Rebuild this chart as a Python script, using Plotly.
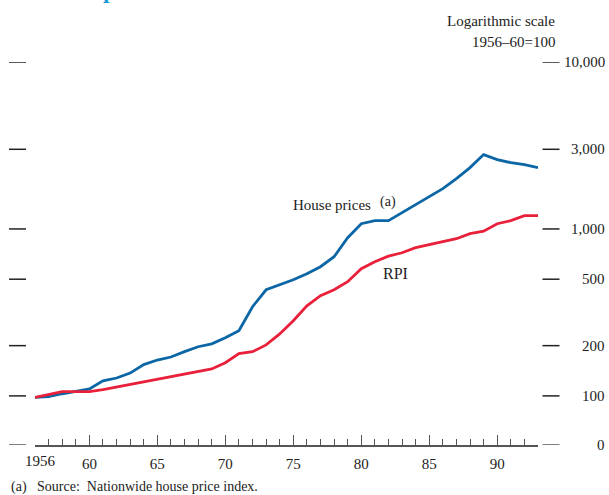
import math
import plotly.graph_objects as go

years = list(range(1956, 1994))
house_prices = [98, 99, 103, 106, 110, 123, 128, 137, 154, 164, 171, 184, 197, 205,
                223, 246, 342, 432, 463, 496, 539, 594, 682, 886, 1075, 1121, 1121,
                1252, 1398, 1561, 1743, 2001, 2330, 2788, 2602, 2496, 2428, 2330]
rpi = [98, 102, 106, 106, 106, 109, 113, 117, 121, 126, 131, 135, 140, 145,
       158, 179, 184, 202, 235, 282, 346, 398, 432, 483, 578, 636, 687, 720,
       772, 805, 839, 874, 937, 969, 1075, 1121, 1201, 1201]

y_tick_vals = [10000, 3000, 1000, 500, 200, 100]
y_tick_text = ["10,000", "3,000", "1,000", "500", "200", "100"]
y_zero = 50.8  # broken-axis "0" level
x_major = [1960, 1965, 1970, 1975, 1980, 1985, 1990]
x_major_text = ["60", "65", "70", "75", "80", "85", "90"]

FONT = "Liberation Serif"
TXT = "#222222"
AX = "#555555"
BLUE = "#0b66a6"
RED = "#e8203a"

W, H = 609, 495
L, R, T, B = 35, 71, 62, 50
pw = W - L - R
ph = H - T - B

def px_x(px):
    return (px - L) / pw

def px_y(py):
    return (H - B - py) / ph

fig = go.Figure()
fig.add_trace(go.Scatter(x=years, y=house_prices, mode="lines",
                         line=dict(color=BLUE, width=2.8), showlegend=False,
                         hoverinfo="skip"))
fig.add_trace(go.Scatter(x=years, y=rpi, mode="lines",
                         line=dict(color=RED, width=2.8), showlegend=False,
                         hoverinfo="skip"))

shapes = []
annotations = []
for v, t in zip(y_tick_vals + [y_zero], y_tick_text + ["0"]):
    col = AX if t == "0" else TXT
    shapes.append(dict(type="line", xref="paper", yref="y", x0=px_x(9), x1=px_x(26),
                       y0=v, y1=v, line=dict(color=col, width=1.5)))
    shapes.append(dict(type="line", xref="paper", yref="y", x0=px_x(542.5), x1=px_x(559.5),
                       y0=v, y1=v, line=dict(color=col, width=1.5)))
    annotations.append(dict(text=t, xref="paper", yref="y", x=px_x(607), y=math.log10(v),
                            xanchor="right", yanchor="middle", showarrow=False,
                            font=dict(family=FONT, size=15, color=TXT)))

annotations += [
    dict(text="1956", xref="x", yref="paper", x=1956, y=px_y(461), xshift=5,
         xanchor="center", yanchor="middle", showarrow=False,
         font=dict(family=FONT, size=15, color=TXT)),
    dict(text="Logarithmic scale", xref="paper", yref="paper", x=px_x(557), y=px_y(21),
         xanchor="right", yanchor="middle", showarrow=False,
         font=dict(family=FONT, size=15, color=TXT)),
    dict(text="1956\u201360=100", xref="paper", yref="paper", x=px_x(557), y=px_y(42),
         xanchor="right", yanchor="middle", showarrow=False,
         font=dict(family=FONT, size=15, color=TXT)),
    dict(text="House prices", xref="x", yref="y", x=1980.86, y=math.log10(1398),
         xanchor="right", yanchor="middle", showarrow=False,
         font=dict(family=FONT, size=15, color=TXT)),
    dict(text="(a)", xref="x", yref="y", x=1981.2, y=math.log10(1450),
         xanchor="left", yanchor="middle", showarrow=False,
         font=dict(family=FONT, size=14, color=TXT)),
    dict(text="RPI", xref="x", yref="y", x=1982.5, y=math.log10(540),
         xanchor="center", yanchor="middle", showarrow=False,
         font=dict(family=FONT, size=16, color=TXT)),
    dict(text="(a)\u00a0\u00a0\u00a0Source:\u00a0\u00a0Nationwide house price index.",
         xref="paper", yref="paper", x=px_x(9), y=px_y(487),
         xanchor="left", yanchor="middle", showarrow=False,
         font=dict(family=FONT, size=14, color=TXT)),
    dict(text="<b>House prices and RPI</b>", xref="paper", yref="paper",
         x=px_x(31), y=px_y(5), xanchor="left", yanchor="bottom", showarrow=False,
         font=dict(family=FONT, size=24, color="#1c9dd9")),
]

fig.update_layout(
    width=W, height=H,
    margin=dict(l=L, r=R, t=T, b=B, pad=0),
    paper_bgcolor="white", plot_bgcolor="white",
    shapes=shapes, annotations=annotations,
    xaxis=dict(range=[1956, 1993], showgrid=False, zeroline=False,
               showline=True, linecolor=AX, linewidth=1.5,
               tickmode="array", tickvals=x_major, ticktext=x_major_text,
               ticks="inside", ticklen=10, tickwidth=1.2, tickcolor=AX,
               ticklabelstandoff=4,
               tickfont=dict(family=FONT, size=15, color=TXT),
               minor=dict(ticks="inside", ticklen=6, tickwidth=1.2, tickcolor=AX,
                          dtick=1, tick0=1956, showgrid=False)),
    yaxis=dict(type="log", range=[math.log10(y_zero), 4], showgrid=False,
               zeroline=False, showline=False, showticklabels=False, ticks=""),
)

fig.write_html("out.html", config={"displayModeBar": False},
               post_script="document.body.style.margin='0';document.body.style.padding='0';")
